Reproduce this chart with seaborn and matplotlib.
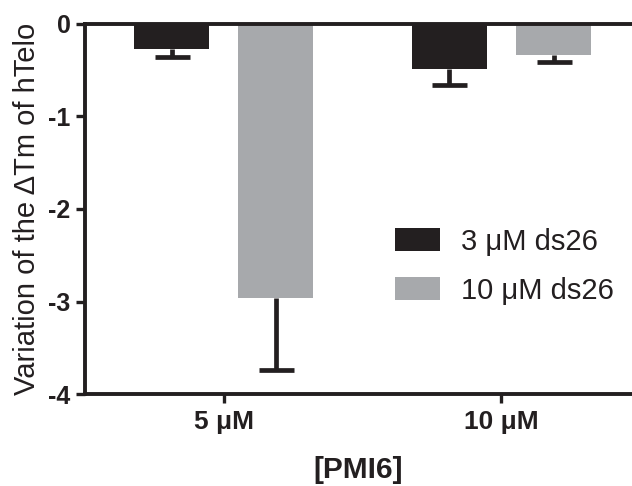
import matplotlib
matplotlib.use("Agg")
import matplotlib.pyplot as plt
import seaborn as sns
import pandas as pd
import numpy as np

categories = ["5 μM", "10 μM"]
series = ["3 μM ds26", "10 μM ds26"]
values_3 = [-0.27, -0.49]
values_10 = [-2.96, -0.34]
err_3 = [0.09, 0.17]
err_10 = [0.78, 0.07]
yticks = [0, -1, -2, -3, -4]

colors = ["#231f20", "#a7a9ac"]
ink = "#231f20"

df = pd.DataFrame({
    "conc": categories * 2,
    "ds26": [series[0]] * 2 + [series[1]] * 2,
    "val": values_3 + values_10,
})

sns.set_style("white")
plt.rcParams["font.family"] = ["Liberation Sans", "DejaVu Sans"]

fig = plt.figure(figsize=(6.32, 4.86), dpi=100)
ax = fig.add_axes([0.1345, 0.189, 0.8655, 0.762])

sns.barplot(data=df, x="conc", y="val", hue="ds26", order=categories,
            hue_order=series, palette=colors, width=0.75, gap=0.28,
            errorbar=None, saturation=1, ax=ax, linewidth=0)

# one-sided (downward) error bars from bar geometry
for container, errs in zip(ax.containers[:2], [err_3, err_10]):
    for bar, e in zip(container, errs):
        xc = bar.get_x() + bar.get_width() / 2
        y = bar.get_y() + bar.get_height()
        eb = ax.errorbar([xc], [y], yerr=[[e], [0]], fmt="none", ecolor=ink,
                         elinewidth=3.4, capsize=12.6, capthick=3.4, zorder=1)
        caps = eb[1]
        if len(caps) > 1:
            caps[1].set_visible(False)

ax.set_ylim(-4, 0)
ax.set_xlim(-0.5, 1.47)
ax.set_yticks(yticks)
ax.set_yticklabels([str(t) for t in yticks], fontweight="bold", fontsize=18)
ax.set_xticks(range(len(categories)))
ax.set_xticklabels(categories, fontweight="bold", fontsize=19)

for side in ["left", "top", "bottom"]:
    ax.spines[side].set_visible(True)
    ax.spines[side].set_linewidth(2.8)
    ax.spines[side].set_color(ink)
ax.spines["right"].set_visible(False)

ax.tick_params(axis="y", left=True, direction="out", length=6.5, width=2.4, color=ink, pad=4, labelcolor=ink)
ax.tick_params(axis="x", bottom=True, direction="out", length=6.5, width=2.4, color=ink, pad=5, labelcolor=ink)

ax.set_xlabel("[PMI6]", fontweight="bold", fontsize=21.5, color=ink, labelpad=16)
ax.set_ylabel("Variation of the \u0394Tm of hTelo", fontsize=21, color=ink, labelpad=5)

leg = ax.legend(loc="center left", bbox_to_anchor=(0.567, 0.346), frameon=False,
                fontsize=21, handlelength=1.55, handleheight=0.83, labelspacing=0.72,
                handletextpad=0.7, borderpad=0, borderaxespad=0)
for t in leg.get_texts():
    t.set_color(ink)

fig.savefig("out.png", dpi=100)
